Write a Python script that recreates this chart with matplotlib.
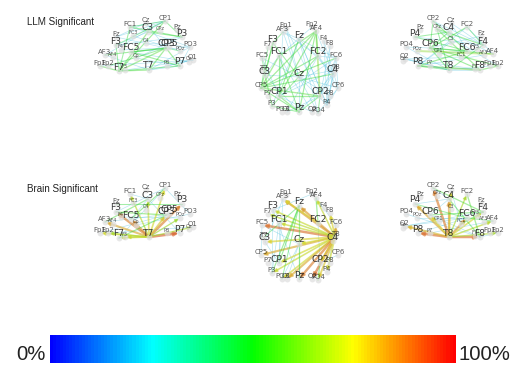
import numpy as np
import matplotlib.pyplot as plt
from matplotlib.colors import LinearSegmentedColormap

# colour scale used by edges and the bar
cmap = LinearSegmentedColormap.from_list(
    "edge", ["#0000ff", "#00ffff", "#00ff00", "#ffff00", "#ff0000"], N=256)

row_titles = ["LLM Significant", "Brain Significant"]
row_shift = [0, 167]

# electrode label spots (pixels)
left_names = ["FC1", "Cz", "CP1", "Pz", "P3", "C3", "CPz", "F3", "Fz", "FC3", "FC5", "CP3", "CP5", "PO3", "POz",
              "AF3", "Fp1", "Fp2", "F7", "F3b", "T7", "P7", "O1", "Oz", "P8", "C1", "F4", "Cp", "AF4"]
left_x = [130, 146, 165, 177, 182, 148, 160, 116, 116, 133, 131, 166, 169, 190, 180,
          105, 100, 108, 119, 125, 149, 180, 193, 189, 167, 146, 121, 136, 113]
left_y = [24, 20, 18, 27, 33, 28, 28, 41, 34, 33, 48, 44, 43, 44, 48,
          52, 63, 63, 67, 67, 66, 62, 57, 59, 63, 40, 47, 55, 54]
left_big = ["C3", "F3", "FC5", "CP3", "CP5", "T7", "F7", "P3", "P7"]
left_tiny = ["CPz", "FC3", "POz", "F3b", "C1", "F4", "Cp", "AF4", "P8", "Oz"]

mid_names = ["Fp1", "AF3", "Fp2", "AF4", "Fz", "F3", "F7", "F4", "F8", "FC5", "FC1", "FC2", "FC6", "T7", "C3",
             "Cz", "C4", "T8", "CP5", "CP6", "CP1", "CP2", "P7", "P8", "P3", "P4", "PO3", "O1", "Pz", "O2", "PO4"]
mid_x = [286, 283, 312, 316, 299, 273, 268, 324, 330, 262, 279, 318, 336, 263, 265,
         299, 333, 335, 261, 338, 279, 320, 268, 330, 272, 327, 282, 287, 299, 312, 318]
mid_y = [25, 29, 24, 28, 35, 39, 44, 38, 43, 55, 52, 52, 55, 68, 71,
         73, 70, 67, 85, 85, 92, 92, 93, 93, 103, 102, 109, 109, 108, 109, 110]
mid_big = ["Fz", "F3", "FC1", "FC2", "C3", "Cz", "C4", "CP1", "CP2", "Pz"]
mid_tiny = []

right_names = ["CP2", "Cz", "FC2", "Fz", "C4", "CPz", "Pz", "P4", "F4", "CP6", "FC6", "AF4", "Fp2", "Fp1", "F8",
               "T8", "P8", "PO4", "POz", "O2", "Oz", "F7", "C3", "CP1", "FC1", "F3", "P7", "AF3"]
right_x = [433, 451, 467, 481, 449, 437, 420, 415, 483, 430, 467, 493, 498, 490, 480,
           449, 418, 406, 417, 405, 403, 475, 451, 439, 461, 477, 430, 484]
right_y = [18, 20, 24, 33, 28, 26, 27, 33, 41, 44, 47, 51, 63, 63, 66,
           66, 62, 44, 48, 56, 58, 66, 39, 51, 54, 46, 63, 52]
right_big = ["C4", "F4", "CP6", "FC6", "F8", "T8", "P8", "P4"]
right_tiny = ["CPz", "POz", "F7", "C3", "CP1", "FC1", "F3", "P7", "AF3", "Oz"]

# edges as (from, to, percent)
left_llm = [("F7", "CP3", 54), ("T7", "CP3", 52), ("FC5", "CP3", 50), ("AF3", "CP3", 50), ("F7", "C3", 52),
            ("F7", "CP1", 50), ("F7", "T7", 52), ("F7", "P7", 48), ("FC1", "P3", 50), ("FC1", "CP1", 46),
            ("FC5", "P7", 50), ("C3", "P3", 48), ("F3", "CP1", 46), ("Fp1", "F7", 52), ("Fp2", "CP3", 48),
            ("CP3", "P7", 52), ("F3", "F7", 48), ("FC1", "F7", 48), ("CP1", "P3", 48), ("CP3", "POz", 46)]
left_pale = [("FC1", "CP1"), ("FC1", "C3"), ("F3", "C3"), ("F3", "P3"), ("FC5", "PO3"), ("T7", "PO3"), ("T7", "P7"),
             ("T7", "O1"), ("AF3", "CP1"), ("Fz", "CP3"), ("Fz", "Cz"), ("Cz", "CP3"), ("P8", "O1"), ("F7", "O1"),
             ("C1", "PO3"), ("FC3", "POz"), ("Cp", "P3"), ("Cp", "P7"), ("F4", "CP3"), ("P7", "PO3"),
             ("Fz", "CP1"), ("FC3", "CP1"), ("AF3", "T7"), ("Fp1", "O1"), ("C3", "PO3"), ("FC5", "Oz")]

mid_llm = [("F3", "Cz", 48), ("F3", "CP5", 52), ("FC1", "CP5", 54), ("FC1", "CP1", 50), ("FC1", "Pz", 48),
           ("AF4", "CP1", 52), ("AF4", "FC1", 52), ("AF4", "CP5", 52), ("Fz", "CP1", 48), ("AF4", "Pz", 50),
           ("AF4", "CP2", 62), ("FC2", "CP5", 50), ("FC6", "CP5", 50), ("C4", "CP5", 50), ("CP5", "CP2", 54),
           ("CP1", "CP2", 52), ("CP1", "Pz", 52), ("C3", "P3", 50), ("CP5", "Pz", 50), ("CP2", "PO4", 48),
           ("CP2", "Pz", 48), ("F3", "C3", 48), ("FC5", "C3", 46), ("AF3", "F3", 48), ("FC2", "AF4", 48),
           ("FC2", "P3", 48), ("F7", "CP5", 46), ("P3", "Pz", 48)]
mid_pale = [("AF3", "Fz"), ("AF3", "FC2"), ("AF3", "Cz"), ("AF3", "CP1"), ("Fz", "FC6"), ("Fz", "C4"), ("Fz", "P3"),
            ("FC2", "FC6"), ("FC2", "C4"), ("FC2", "CP6"), ("FC6", "CP6"), ("FC6", "P4"), ("C4", "CP2"), ("C4", "P4"),
            ("T8", "CP1"), ("T8", "Cz"), ("CP6", "P4"), ("CP6", "Cz"), ("Cz", "Pz"), ("Cz", "PO4"), ("Cz", "C3"),
            ("C3", "FC1"), ("C3", "Pz"), ("FC5", "Cz"), ("FC5", "CP1"), ("F4", "P4"), ("F8", "CP2"), ("O1", "CP2"),
            ("O2", "CP1"), ("P8", "Cz"), ("P4", "Fz"), ("F4", "CP6"), ("Fp2", "FC1"), ("AF4", "C4"),
            ("Fz", "P4"), ("Fz", "PO4"), ("FC2", "O1"), ("FC6", "CP2"), ("T8", "P4"), ("C4", "Pz"), ("Cz", "P4"),
            ("F8", "P4"), ("Fp1", "Cz"), ("Fp1", "CP2"), ("FC1", "O2"), ("CP6", "PO4"), ("CP1", "FC6")]

right_llm = [("F8", "CPz", 52), ("F8", "CP6", 50), ("T8", "CP6", 50), ("T8", "CPz", 48), ("FC6", "P8", 52),
             ("FC6", "CP6", 48), ("C4", "CP6", 48), ("CP2", "CP6", 48), ("CP2", "FC6", 50), ("CPz", "F4", 50),
             ("AF4", "CP6", 48), ("Fp2", "F8", 52), ("P8", "F8", 62), ("FC2", "CP6", 50), ("P4", "C4", 48),
             ("P4", "FC6", 48), ("CP6", "Fp2", 52), ("POz", "AF4", 64), ("F4", "T8", 48), ("FC2", "F4", 46),
             ("P8", "T8", 44)]
right_pale = [("P8", "F7"), ("T8", "F8"), ("T8", "P7"), ("T8", "O2"), ("O2", "F7"), ("O2", "FC1"), ("PO4", "CP6"),
              ("PO4", "T8"), ("P4", "F4"), ("CP2", "C4"), ("CP2", "F4"), ("Cz", "FC6"), ("Cz", "F4"), ("C4", "AF4"),
              ("C3", "P8"), ("F3", "CP1"), ("FC2", "AF4"), ("Fz", "CP6"), ("T8", "Fp1"), ("AF3", "P8"),
              ("P8", "F8"), ("O2", "T8"), ("CPz", "Fp2"), ("FC2", "P8")]

left_brain = [("T7", "P7", 92), ("T7", "P3", 88), ("T7", "CP3", 78), ("T7", "F3", 88), ("T7", "FC5", 86),
              ("T7", "AF3", 82), ("T7", "Fp1", 74), ("T7", "F7", 72), ("T7", "C3", 74), ("T7", "FC1", 70),
              ("T7", "CP1", 74), ("T7", "Fp2", 68), ("T7", "F3b", 72), ("T7", "POz", 66), ("T7", "O1", 68),
              ("F3", "CP3", 54), ("AF3", "C3", 52), ("F7", "CP5", 50), ("Fz", "P3", 48), ("FC5", "CP1", 50)]
left_brain_pale = [("FC1", "C3"), ("FC5", "C3"), ("F3", "CP1"), ("AF3", "CP5"), ("Fp1", "CP3"), ("C3", "P7"),
                   ("CP1", "PO3"), ("Cp", "PO3"), ("F7", "P7"), ("Fp2", "O1"), ("F4", "POz"), ("F7", "CP1")]

mid_brain = [("T8", "AF3", 84), ("T8", "Fz", 84), ("T8", "FC5", 90), ("T8", "C3", 76), ("T8", "CP5", 82),
             ("T8", "CP1", 74), ("T8", "P3", 72), ("T8", "PO3", 74), ("T8", "O1", 82), ("T8", "Pz", 88),
             ("T8", "O2", 90), ("T8", "PO4", 78), ("T8", "FC1", 72), ("T8", "F3", 72), ("T8", "F7", 70),
             ("T8", "P4", 74), ("T8", "Cz", 74), ("T8", "FC6", 82), ("T8", "F8", 76), ("T8", "CP2", 76),
             ("T8", "AF4", 72), ("Fz", "CP1", 50), ("Fz", "P3", 50), ("Fz", "Pz", 52), ("Fz", "PO3", 48),
             ("FC2", "AF3", 76), ("AF4", "FC2", 52), ("Fz", "T7", 48), ("CP2", "PO4", 54)]
mid_brain_pale = [("F3", "P3"), ("F3", "Pz"), ("FC1", "CP1"), ("FC1", "P3"), ("FC5", "CP5"), ("FC5", "Cz"),
                  ("AF3", "CP1"), ("AF3", "C3"), ("C3", "CP1"), ("Cz", "Pz"), ("Cz", "PO3"), ("FC2", "CP2"),
                  ("FC6", "P4"), ("CP6", "CP2"), ("O1", "Cz"), ("AF4", "FC6"), ("Fp2", "F3")]

right_brain = [("T8", "P8", 90), ("T8", "F8", 90), ("T8", "CP2", 88), ("T8", "P4", 82), ("T8", "C4", 84),
               ("T8", "CP6", 76), ("T8", "FC6", 84), ("T8", "O2", 80), ("T8", "F4", 74), ("T8", "AF4", 70),
               ("T8", "Fp2", 68), ("T8", "FC2", 68), ("T8", "Cz", 76), ("CP2", "F4", 52), ("FC2", "F8", 54),
               ("F4", "CP6", 50), ("P4", "FC6", 48), ("C4", "F8", 50), ("AF4", "FC6", 48), ("FC1", "F4", 54)]
right_brain_pale = [("CP2", "C4"), ("P4", "C4"), ("CP6", "C4"), ("O2", "FC6"), ("P8", "FC6"), ("PO4", "F8"),
                    ("POz", "FC6"), ("CP6", "F8"), ("P7", "AF4"), ("Cz", "FC1"), ("F8", "Fp2"), ("O2", "F4")]

views = [
    (left_names, left_x, left_y, left_big, left_tiny, [(left_llm, left_pale), (left_brain, left_brain_pale)]),
    (mid_names, mid_x, mid_y, mid_big, mid_tiny, [(mid_llm, mid_pale), (mid_brain, mid_brain_pale)]),
    (right_names, right_x, right_y, right_big, right_tiny, [(right_llm, right_pale), (right_brain, right_brain_pale)]),
]
pale_value = 20
labels = {"F3b": "F3", "C1": "C4"}


def muted(v):
    # the reference lines look washed out, pull towards grey
    r, g, b, _ = cmap(v / 100)
    return (0.65 * r + 0.2, 0.65 * g + 0.2, 0.65 * b + 0.2)


fig = plt.figure(figsize=(5.25, 3.71), dpi=100)
ax = fig.add_axes([0, 0, 1, 1])

for names, xs, ys, big, tiny, rows in views:
    pos = {n: (x, y) for n, x, y in zip(names, xs, ys)}
    for shift, (edges, pale) in zip(row_shift, rows):
        def node(n):
            return pos[n][0], pos[n][1] + shift + (4 if n in big else 3)

        for a, b in pale:
            ax.plot(*zip(node(a), node(b)), color=muted(pale_value), lw=0.5, alpha=0.35, zorder=1)
        for a, b, v in edges:
            c = muted(v)
            if v >= 66:
                ax.annotate("", xy=node(b), xytext=node(a), zorder=2,
                            arrowprops=dict(arrowstyle="-|>,head_width=0.1,head_length=0.2", color=c, alpha=0.65,
                                            lw=(v - 40) / 28, shrinkA=0, shrinkB=1))
            else:
                ax.plot(*zip(node(a), node(b)), color=c, lw=(v - 30) / 24, alpha=0.45, zorder=2)
        for n in names:
            x, y = node(n)
            ax.scatter(x, y, s=18, color="#dddddd", alpha=0.7, lw=0, zorder=3)
            size = 6.6 if n in big else (3.6 if n in tiny else 5.0)
            ax.text(pos[n][0], pos[n][1] + shift, labels.get(n, n), ha="center", va="center", color="#222222",
                    fontsize=size, alpha=0.9 if n in big else 0.75, zorder=4)

for shift, title in zip(row_shift, row_titles):
    ax.text(27, 22 + shift, title, ha="left", va="center", fontsize=7.1, family="Liberation Sans", color="#222222")

# percentage bar
ramp = np.linspace(0, 1, 128)[None, :]
ax.imshow(ramp, cmap=cmap, extent=(50, 456, 363, 335), aspect="auto", interpolation="nearest", zorder=1)
ax.set_xlim(0, 525)
ax.set_ylim(371, 0)
ax.axis("off")
ax.text(46, 355, "0%", ha="right", va="center", fontsize=14.6, family="Liberation Sans", color="#222222")
ax.text(459, 355, "100%", ha="left", va="center", fontsize=14.6, family="Liberation Sans", color="#222222")

fig.savefig("out.png", dpi=100)
